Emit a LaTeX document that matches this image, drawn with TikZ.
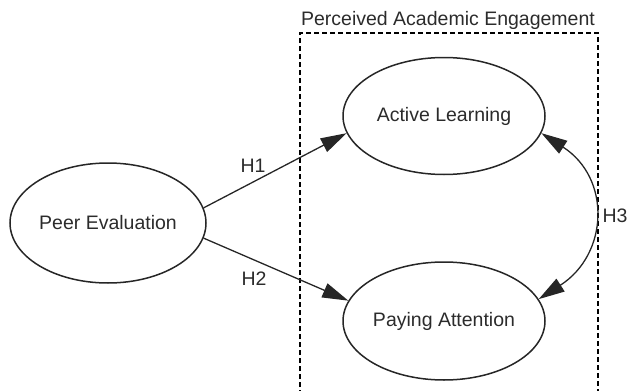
\documentclass[tikz,border=0pt]{standalone}
\usepackage{fontspec}
\setmainfont{Liberation Sans}
\usetikzlibrary{shapes.geometric,arrows.meta}
\definecolor{txt}{HTML}{2b2b2b}
\begin{document}
\begin{tikzpicture}[x=1pt,y=-1pt,
  every node/.style={font=\fontsize{19.5}{23}\selectfont,text=txt},
  latent/.style={ellipse,draw=black!85,line width=1.5pt,inner sep=0pt},
  tip/.tip={Triangle[length=26pt,width=15pt]},
  arr/.style={draw=black!85,line width=1.3pt,-tip},
  biarr/.style={draw=black!85,line width=1.3pt,tip-tip},
  group/.style={draw=black,line width=2pt,dash pattern=on 5pt off 3pt}]
\useasboundingbox (0,0) rectangle (630,391);
\draw[group] (300,395) -- (300,33) -- (598,33) -- (598,395);
\node (lab) at (448,20) {Perceived Academic Engagement};
\node[latent,minimum width=196pt,minimum height=120pt] (pe) at (108,223) {Peer Evaluation};
\node[latent,minimum width=202pt,minimum height=117pt] (al) at (444,116) {Active Learning};
\node[latent,minimum width=202pt,minimum height=118pt] (pa) at (444,321) {Paying Attention};
\draw[arr] (pe.9) -- (al.190);
\draw[arr] (pe.351) -- (pa.168);
\draw[biarr] (al.350) .. controls +(70,45) and +(70,-45) .. (pa.13);
\node (h1) at (253,166) {H1};
\node (h2) at (254,279) {H2};
\node (h3) at (615,216) {H3};
\end{tikzpicture}
\end{document}
